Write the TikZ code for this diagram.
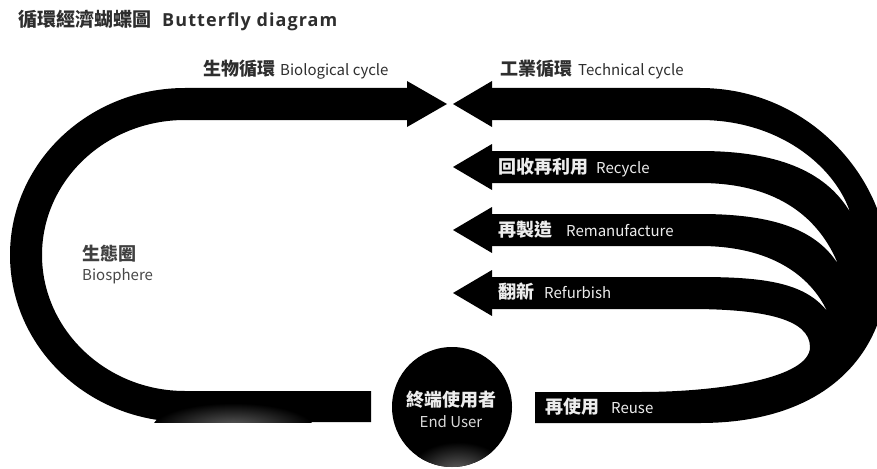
\documentclass[tikz,border=0pt]{standalone}
\usepackage{fontspec}
\setmainfont{Noto Sans CJK TC}
\newfontfamily\titlefont{Open Sans}[LetterSpace=6]
\newcommand\zhtxt[1]{{\fontsize{18}{20}\selectfont\bfseries #1}}
\newcommand\entxt[1]{{\fontsize{15}{18}\selectfont\mdseries #1}}
\begin{document}
\begin{tikzpicture}[x=1pt,y=-1pt,
  font=\fontsize{16.5}{18}\selectfont,
  lbl/.style={inner sep=0pt, anchor=base west, text=black!82},
  wlbl/.style={inner sep=0pt, anchor=base west, text=white!93!black},
  band/.style={fill=black}]
\useasboundingbox (0,0) rectangle (877,468);
\clip (0,0) rectangle (877,468);

% ---- left loop (biological cycle) ----
\fill[band] (407,88) -- (185,88)
  .. controls (88.3,88) and (10,162.8) .. (10,255)
  .. controls (10,347.2) and (88.3,422) .. (185,422)
  -- (371,422) -- (371,391) -- (185,391)
  .. controls (106,391) and (42,329.6) .. (42,255)
  .. controls (42,180.4) and (106,120) .. (185,120)
  -- (407,120) -- (407,127) -- (447,104) -- (407,81) -- cycle;
\begin{scope}
  \clip (150,391) rectangle (371,422.6);
  \shade[inner color=black!62, outer color=black] (233,427) ellipse (80 and 24);
\end{scope}

% ---- right shape (technical cycles) ----
\fill[band] (490,88) -- (700,88)
  .. controls (810,88) and (888,180) .. (888,265)
  .. controls (888,350) and (830,423) .. (700,423)
  -- (535,423) -- (535,392) -- (640,392)
  .. controls (720,392) and (810,378) .. (810,347)
  .. controls (810,318) and (760,309) .. (690,309)
  -- (490,309) -- (490,277) -- (700,277)
  .. controls (765,277) and (805,283) .. (827,311)
  .. controls (810,275) and (770,246) .. (700,246)
  -- (490,246) -- (490,214) -- (700,214)
  .. controls (770,214) and (815,228) .. (838,264)
  .. controls (820,220) and (780,183) .. (700,183)
  -- (490,183) -- (490,151) -- (700,151)
  .. controls (775,151) and (825,170) .. (850,212)
  .. controls (835,167) and (780,120) .. (700,120)
  -- (490,120) -- cycle;
\foreach \yy in {104,167,230,293}{
  \fill[band] (492,\yy-23) -- (453,\yy) -- (492,\yy+23) -- cycle;
}

% ---- end user circle ----
\fill[black] (452,407) circle (60);
\begin{scope}
  \clip (452,407) circle (60);
  \shade[inner color=black!58, outer color=black] (458,474) ellipse (50 and 32);
\end{scope}
\node[inner sep=0pt, minimum size=120pt, circle] (enduser) at (452,407) {};

% ---- texts ----
\node[lbl] (title) at (18,27)
  {\fontsize{19}{22}\selectfont\bfseries 循環經濟蝴蝶圖\hspace{11pt}{\titlefont\fontsize{18}{20}\selectfont\bfseries Butterfly diagram}};
\node[lbl] (bio) at (203,76) {\zhtxt{生物循環}\hspace{5pt}\entxt{Biological cycle}};
\node[lbl] (tech) at (500,76) {\zhtxt{工業循環}\hspace{6pt}\entxt{Technical cycle}};
\node[wlbl] (recycle) at (498,173) {\zhtxt{回收再利用}\hspace{8pt}\entxt{Recycle}};
\node[wlbl] (reman) at (498,236) {\zhtxt{再製造}\hspace{14pt}\entxt{Remanufacture}};
\node[wlbl] (refurb) at (498,298) {\zhtxt{翻新}\hspace{10pt}\entxt{Refurbish}};
\node[wlbl] (reuse) at (545,413) {\zhtxt{再使用}\hspace{12pt}\entxt{Reuse}};
\node[lbl, text=black!75] (bio1) at (82,260) {\zhtxt{生態圈}};
\node[lbl, text=black!72] (bio2) at (82,280) {\entxt{Biosphere}};
\node[inner sep=0pt, anchor=base, text=white!93!black] (eu1) at (451,406) {\zhtxt{終端使用者}};
\node[inner sep=0pt, anchor=base, text=white!85!black] (eu2) at (451,427) {\entxt{End User}};
\end{tikzpicture}
\end{document}
